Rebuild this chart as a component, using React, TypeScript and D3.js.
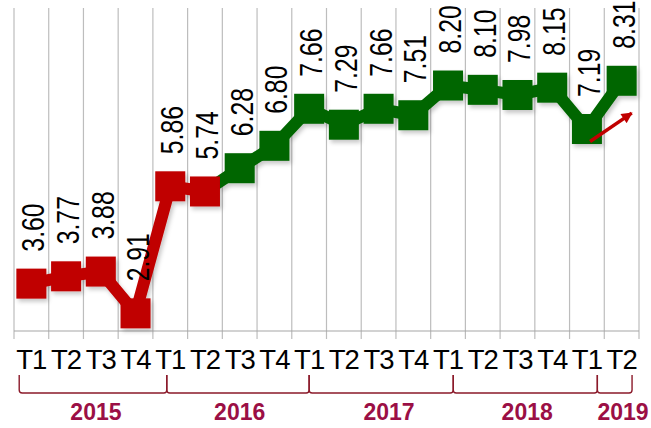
import React from "react";
import * as d3 from "d3";

const quarters = ["T1","T2","T3","T4","T1","T2","T3","T4","T1","T2","T3","T4","T1","T2","T3","T4","T1","T2"];
const values = [3.60,3.77,3.88,2.91,5.86,5.74,6.28,6.80,7.66,7.29,7.66,7.51,8.20,8.10,7.98,8.15,7.19,8.31];
const valueLabels = ["3.60","3.77","3.88","2.91","5.86","5.74","6.28","6.80","7.66","7.29","7.66","7.51","8.20","8.10","7.98","8.15","7.19","8.31"];
const redIdx = [0,1,2,3,4,5];
const greenIdx = [5,6,7,8,9,10,11,12,13,14,15,16,17];
const greenMarkerIdx = [6,7,8,9,10,11,12,13,14,15,16,17];
const years = ["2015","2016","2017","2018","2019"];
const yearStart = [0.15, 4.4, 8.5, 12.65, 16.8];
const yearEnd = [4.4, 8.5, 12.65, 16.8, 17.8];
const yearLabelPos = [2.36, 6.5, 10.8, 14.78, 17.54];
const arrowFrom = [16.59, 6.9];
const arrowTo = [17.79, 7.56];
const yDomain = [2.5, 10];

const W = 651, H = 428;
const RED = "#C00000";
const GREEN = "#006600";
const BRACKET = "#8B1A2A";
const YEAR = "#9B0F45";

export default function App() {
  const left = 14, right = 639, top = 8, bottom = 331;
  const x = d3.scaleBand<number>().domain(d3.range(quarters.length)).range([left, right]).padding(0);
  const bw = x.bandwidth();
  const cx = (i: number) => (x(i) as number) + bw / 2;
  const xu = d3.scaleLinear().domain([0, quarters.length]).range([left, right]);
  const y = d3.scaleLinear().domain(yDomain).range([bottom, top]);
  const line = d3.line<number>().x((i) => cx(i)).y((i) => y(values[i])).curve(d3.curveLinear);
  const boundaries = d3.range(quarters.length + 1).map((i) => xu(i));
  const sq = 30;
  const bracketY = 393, bracketTop = 375;

  return (
    <svg width={W} height={H} style={{ position: "absolute", left: 0, top: 0, background: "#fff" }}
      fontFamily="'Liberation Sans', Arial, sans-serif">
      <defs>
        <filter id="sh" x="-20%" y="-20%" width="140%" height="140%">
          <feDropShadow dx="2" dy="3" stdDeviation="2" floodColor="#000" floodOpacity="0.22" />
        </filter>
        <marker id="ah" viewBox="0 0 10 10" refX="9" refY="5" markerWidth="13" markerHeight="11"
          markerUnits="userSpaceOnUse" orient="auto">
          <path d="M0,0 L10,5 L0,10 Z" fill={RED} />
        </marker>
      </defs>
      {boundaries.map((bx, i) => (
        <line key={"g" + i} x1={bx} x2={bx} y1={top} y2={bottom + 8} stroke="#BDBDBD" strokeWidth={1.2} />
      ))}
      <line x1={left} x2={right} y1={bottom} y2={bottom} stroke="#A6A6A6" strokeWidth={1.2} />
      {quarters.map((q, i) => (
        <text key={"q" + i} x={cx(i)} y={369} textAnchor="middle" fontSize={27.5} letterSpacing={-1} fill="#000">{q}</text>
      ))}
      {years.map((yr, k) => {
        const x0 = xu(yearStart[k]), x1 = xu(yearEnd[k]);
        const d = `M${x0},${bracketTop} V${bracketY - 3} Q${x0},${bracketY} ${x0 + 3},${bracketY} H${x1 - 3} Q${x1},${bracketY} ${x1},${bracketY - 3} V${bracketTop}`;
        return <path key={"b" + k} d={d} fill="none" stroke={BRACKET} strokeWidth={1.4} />;
      })}
      {years.map((yr, k) => (
        <text key={"y" + k} x={xu(yearLabelPos[k])} y={420} textAnchor="middle" fontSize={23} fontWeight="bold" fill={YEAR}>{yr}</text>
      ))}
      <g filter="url(#sh)">
        <path d={line(greenIdx) || ""} fill="none" stroke={GREEN} strokeWidth={12} strokeLinejoin="miter" />
        {greenMarkerIdx.map((i) => (
          <rect key={"gm" + i} x={cx(i) - sq / 2} y={y(values[i]) - sq / 2} width={sq} height={sq} fill={GREEN} />
        ))}
        <path d={line(redIdx) || ""} fill="none" stroke={RED} strokeWidth={12} strokeLinejoin="miter" />
        {redIdx.map((i) => (
          <rect key={"rm" + i} x={cx(i) - sq / 2} y={y(values[i]) - sq / 2} width={sq} height={sq} fill={RED} />
        ))}
      </g>
      {values.map((v, i) => (
        <text key={"v" + i} transform={`translate(${cx(i) + 13},${y(v) - 32}) rotate(-90) scale(0.8,1)`}
          fontSize={31} fill="#000">{valueLabels[i]}</text>
      ))}
      <line x1={xu(arrowFrom[0])} y1={y(arrowFrom[1])} x2={xu(arrowTo[0])} y2={y(arrowTo[1])}
        stroke={RED} strokeWidth={3.5} markerEnd="url(#ah)" />
    </svg>
  );
}
